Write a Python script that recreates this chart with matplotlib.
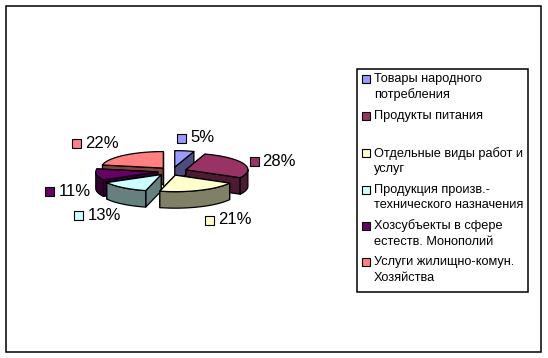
import numpy as np
import matplotlib
matplotlib.use('Agg')
import matplotlib.pyplot as plt
from matplotlib.patches import Polygon, Rectangle

plt.rcParams['font.family'] = ['Liberation Sans', 'DejaVu Sans']

percents = [5, 28, 21, 13, 11, 22]
top_colors = ['#9999FF', '#993366', '#FFFFCC', '#CCFFFF', '#660066', '#FF8080']
side_colors = ['#4D4D80', '#4D1A33', '#808066', '#668080', '#330033', '#804040']
legend_labels = ['Товары народного\nпотребления',
                 'Продукты питания',
                 'Отдельные виды работ и\nуслуг',
                 'Продукция произв.-\nтехнического назначения',
                 'Хозсубъекты в сфере\nестеств. Монополий',
                 'Услуги жилищно-комун.\nХозяйства']

# geometry of the pie, in pixels
cx, cy = 172.5, 171.3
rx, ry = 62, 16.5
depth = 16.5
explode_x, explode_y = 14.4, 4.2
front_shift = 3.2
draw_order = [0, 5, 1, 4, 3, 2]

# label swatch left edge / centre y, text left edge
label_pos = [(176.5, 138, 190), (250, 161, 262.5), (204.5, 220, 218),
             (73.5, 215.5, 87.5), (45, 191.5, 59), (72, 143, 85)]
legend_y = [(79.3, 95), (116,), (153.3, 169.3), (190, 205), (226, 241.7), (262.3, 278.3)]

fig = plt.figure(figsize=(5.48, 3.58), dpi=100)
ax = fig.add_axes([0, 0, 1, 1])
ax.set_xlim(0, 548)
ax.set_ylim(358, 0)
ax.axis('off')

ax.add_patch(Rectangle((5.5, 5.5), 535, 346, fc='white', ec='black', lw=1.1))


def arc(t0, t1, x0, y0):
    t = np.radians(np.linspace(t0, t1, 60))
    return np.column_stack([x0 + rx * np.sin(t), y0 - ry * np.cos(t)])


def draw_slice(i):
    t0 = sum(percents[:i]) * 3.6
    t1 = t0 + percents[i] * 3.6
    mid = np.radians((t0 + t1) / 2)
    # front slices sit a little further left in the reference
    x0 = cx + explode_x * np.sin(mid) - front_shift * max(0, -np.cos(mid))
    y0 = cy - explode_y * np.cos(mid)
    edges = arc(t0, t1, x0, y0)
    down = np.array([0, depth])
    tip = np.array([x0, y0])
    style = dict(ec='black', lw=0.9, fc=side_colors[i], joinstyle='round')

    # radial faces, the one further back first
    for p in sorted([edges[0], edges[-1]], key=lambda q: q[1]):
        ax.add_patch(Polygon([tip, p, p + down, tip + down], **style))

    # outer wall only on the front half of the ellipse
    w0, w1 = max(t0, 90), min(t1, 270)
    if w1 > w0:
        wall = arc(w0, w1, x0, y0)
        ax.add_patch(Polygon(np.vstack([wall, (wall + down)[::-1]]), **style))

    ax.add_patch(Polygon(np.vstack([tip, edges]), ec='black', lw=0.9,
                         fc=top_colors[i], joinstyle='round'))


for i in draw_order:
    draw_slice(i)

# data labels
for i, (sx, sy, tx) in enumerate(label_pos):
    ax.add_patch(Rectangle((sx, sy - 4.5), 9, 9, fc=top_colors[i], ec='black', lw=0.8))
    ax.text(tx, sy, '%d%%' % percents[i], fontsize=12, va='center', ha='left')

# legend
ax.add_patch(Rectangle((356.5, 68.5), 171, 223, fc='white', ec='black', lw=1.1))
for i, label in enumerate(legend_labels):
    lines = label.split('\n')
    ax.add_patch(Rectangle((362, legend_y[i][0] - 4), 8, 8, fc=top_colors[i], ec='black', lw=0.8))
    for line, y in zip(lines, legend_y[i]):
        ax.text(374, y, line, fontsize=9.2, va='center', ha='left')

fig.savefig('out.png', dpi=100)
